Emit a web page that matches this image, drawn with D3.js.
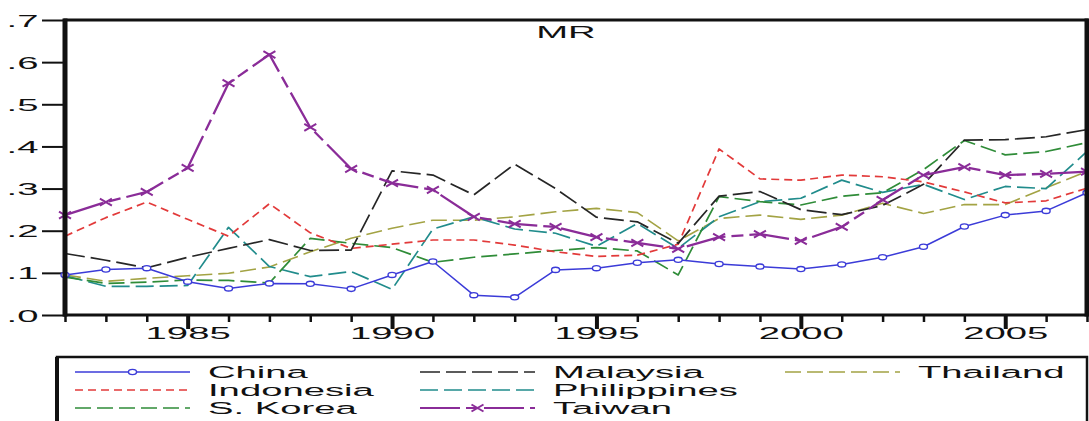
<!DOCTYPE html>
<html>
<head>
<meta charset="utf-8">
<script src="https://cdn.jsdelivr.net/npm/d3@7"></script>
<style>
  body { margin: 0; background: #fff; }
  svg { display: block; }
  text { font-family: "Liberation Sans", Arial, sans-serif; fill: #111; }
</style>
</head>
<body>
<svg id="chart" width="1089" height="421"></svg>
<script>
// Years on the horizontal axis
const years = [1982, 1983, 1984, 1985, 1986, 1987, 1988, 1989, 1990, 1991, 1992, 1993, 1994,
               1995, 1996, 1997, 1998, 1999, 2000, 2001, 2002, 2003, 2004, 2005, 2006, 2007];

// MR series, one value per year
const china       = [.095, .108, .111, .079, .063, .075, .074, .062, .095, .127, .047, .042, .107,
                     .111, .124, .131, .121, .115, .109, .120, .137, .162, .210, .237, .247, .290];
const indonesia   = [.187, .231, .268, .227, .187, .264, .195, .158, .168, .178, .178, .166, .150,
                     .139, .142, .168, .394, .323, .320, .332, .328, .316, .292, .266, .271, .301];
const korea       = [.090, .075, .078, .083, .082, .076, .182, .170, .160, .125, .137, .145, .153,
                     .160, .152, .095, .281, .269, .261, .282, .290, .345, .414, .380, .388, .409];
const malaysia    = [.146, .130, .112, .137, .158, .179, .153, .154, .342, .332, .285, .358, .300,
                     .232, .221, .170, .282, .293, .250, .238, .260, .310, .415, .416, .423, .440];
const philippines = [.093, .068, .068, .070, .208, .115, .091, .103, .061, .204, .233, .204, .194,
                     .163, .217, .158, .233, .269, .277, .320, .291, .310, .274, .305, .300, .388];
const taiwan      = [.237, .268, .292, .349, .550, .618, .445, .347, .313, .297, .233, .216, .209,
                     .185, .171, .157, .185, .192, .176, .209, .273, .332, .351, .332, .335, .340];
const thailand    = [.095, .080, .087, .093, .099, .114, .150, .182, .206, .225, .225, .233, .245,
                     .253, .243, .176, .229, .237, .227, .237, .265, .241, .262, .262, .302, .341];

// Axis labelling
const yTickValues = [0, .1, .2, .3, .4, .5, .6, .7];
const yTickLabels = [".0", ".1", ".2", ".3", ".4", ".5", ".6", ".7"];
const xLabelYears = [1985, 1990, 1995, 2000, 2005];
const xTickLabels = ["1985", "1990", "1995", "2000", "2005"];
const chartTitle = "MR";

// Series styles, in legend order (column by column)
const series = [
  { name: "China",       values: china,       color: "#3b3bd8", dash: null,          width: 1.5, marker: "circle" },
  { name: "Indonesia",   values: indonesia,   color: "#e23a3a", dash: "8,5",         width: 1.7 },
  { name: "S. Korea",    values: korea,       color: "#2f8c38", dash: "16,6",        width: 1.7 },
  { name: "Malaysia",    values: malaysia,    color: "#262626", dash: "20,6",        width: 1.7 },
  { name: "Philippines", values: philippines, color: "#218c8c", dash: "18,6",        width: 1.7 },
  { name: "Taiwan",      values: taiwan,      color: "#8a2c98", dash: "40,6,12,6",   width: 2.3, marker: "cross" },
  { name: "Thailand",    values: thailand,    color: "#a3a344", dash: "16,6",        width: 1.6 }
];
const drawOrder = ["Thailand", "Philippines", "S. Korea", "Indonesia", "Malaysia", "China", "Taiwan"];
const legendLayout = [
  ["China", "Indonesia", "S. Korea"],
  ["Malaysia", "Philippines", "Taiwan"],
  ["Thailand"]
];

// Text in this graph is drawn wide
const SX = 2.25;
const FONT = 17;

const svg = d3.select("#chart");
const plotL = 65, plotR = 1087, plotT = 20, plotB = 315;

const x = d3.scaleLinear().domain([1982, 2007]).range([plotL, plotR]);
const y = d3.scaleLinear().domain([0, 0.7]).range([plotB, plotT]);

// Y axis: outward ticks with wide labels
const yAxis = svg.append("g")
  .attr("transform", `translate(${plotL},0)`)
  .call(d3.axisLeft(y).tickValues(yTickValues).tickSize(23).tickSizeOuter(0)
    .tickFormat((d, i) => yTickLabels[i]));
yAxis.select(".domain").remove();
yAxis.selectAll(".tick line").attr("stroke", "#111").attr("stroke-width", 2);
yAxis.selectAll(".tick text")
  .attr("x", -11.8).attr("dy", "0.36em")
  .attr("font-size", FONT).attr("fill", "#111")
  .attr("transform", `scale(${SX},1)`);

// X axis: a tick every year, longer ticks every five years
const isMajor = d => xLabelYears.includes(d);
const xAxis = svg.append("g")
  .attr("transform", `translate(0,${plotB})`)
  .call(d3.axisBottom(x).tickValues(years).tickSizeOuter(0)
    .tickFormat(d => isMajor(d) ? xTickLabels[xLabelYears.indexOf(d)] : ""));
xAxis.select(".domain").remove();
xAxis.selectAll(".tick line")
  .attr("stroke", "#111")
  .attr("y2", d => isMajor(d) ? 14 : 7)
  .attr("stroke-width", d => isMajor(d) ? 4 : 2.5);
xAxis.selectAll(".tick text")
  .attr("y", 12).attr("dy", "0.71em")
  .attr("font-size", FONT).attr("fill", "#111")
  .attr("transform", `scale(${SX},1)`);

// Series lines
const line = d3.line().x((d, i) => x(years[i])).y(d => y(d));
const plot = svg.append("g");
const byName = Object.fromEntries(series.map(s => [s.name, s]));

function drawMarker(g, kind, cx, cy, color) {
  if (kind === "circle") {
    g.append("ellipse").attr("cx", cx).attr("cy", cy).attr("rx", 4).attr("ry", 2.6)
      .attr("fill", "#fff").attr("stroke", color).attr("stroke-width", 1.4);
  } else if (kind === "cross") {
    g.append("path")
      .attr("d", `M${cx - 6},${cy - 3.5}L${cx + 6},${cy + 3.5}M${cx - 6},${cy + 3.5}L${cx + 6},${cy - 3.5}`)
      .attr("stroke", color).attr("stroke-width", 2).attr("fill", "none");
  }
}

drawOrder.forEach(name => {
  const s = byName[name];
  const g = plot.append("g");
  g.append("path")
    .datum(s.values)
    .attr("d", line)
    .attr("fill", "none")
    .attr("stroke", s.color)
    .attr("stroke-width", s.width)
    .attr("stroke-linejoin", "round")
    .attr("stroke-dasharray", s.dash);
  if (s.marker) {
    s.values.forEach((v, i) => drawMarker(g, s.marker, x(years[i]), y(v), s.color));
  }
});

// Plot frame
svg.append("rect")
  .attr("x", plotL).attr("y", plotT).attr("width", plotR - plotL).attr("height", plotB - plotT)
  .attr("fill", "none").attr("stroke", "#111").attr("stroke-width", 3);
svg.append("line").attr("x1", plotL).attr("x2", plotL).attr("y1", plotT - 1.5).attr("y2", plotB + 1.5)
  .attr("stroke", "#111").attr("stroke-width", 5);
svg.append("line").attr("x1", plotR).attr("x2", plotR).attr("y1", plotT - 1.5).attr("y2", plotB + 1.5)
  .attr("stroke", "#111").attr("stroke-width", 5);

// Title
svg.append("text")
  .attr("transform", `translate(${(plotL + plotR) / 2 - 10},38) scale(${SX},1)`)
  .attr("text-anchor", "middle")
  .attr("font-size", FONT)
  .text(chartTitle);

// Legend
const legend = svg.append("g");
const legLeft = 57, legTop = 357;
legend.append("rect")
  .attr("x", legLeft).attr("y", legTop).attr("width", plotR - legLeft).attr("height", 90)
  .attr("fill", "#fff").attr("stroke", "#111").attr("stroke-width", 2.5);
legend.append("line").attr("x1", legLeft).attr("x2", legLeft).attr("y1", legTop).attr("y2", 421)
  .attr("stroke", "#111").attr("stroke-width", 4);

const colX = [75, 420, 785];
const sampleLen = 115;
const rowY = [372, 390, 408];
legendLayout.forEach((col, ci) => {
  col.forEach((name, ri) => {
    const s = byName[name];
    const g = legend.append("g");
    const x0 = colX[ci], yy = rowY[ri];
    g.append("line")
      .attr("x1", x0).attr("x2", x0 + sampleLen).attr("y1", yy).attr("y2", yy)
      .attr("stroke", s.color).attr("stroke-width", s.width - 0.2)
      .attr("stroke-dasharray", s.dash);
    if (s.marker) drawMarker(g, s.marker, x0 + sampleLen * 0.5, yy, s.color);
    g.append("text")
      .attr("transform", `translate(${x0 + sampleLen + 18},${yy + 6}) scale(${SX},1)`)
      .attr("font-size", FONT)
      .text(name);
  });
});
</script>
</body>
</html>
